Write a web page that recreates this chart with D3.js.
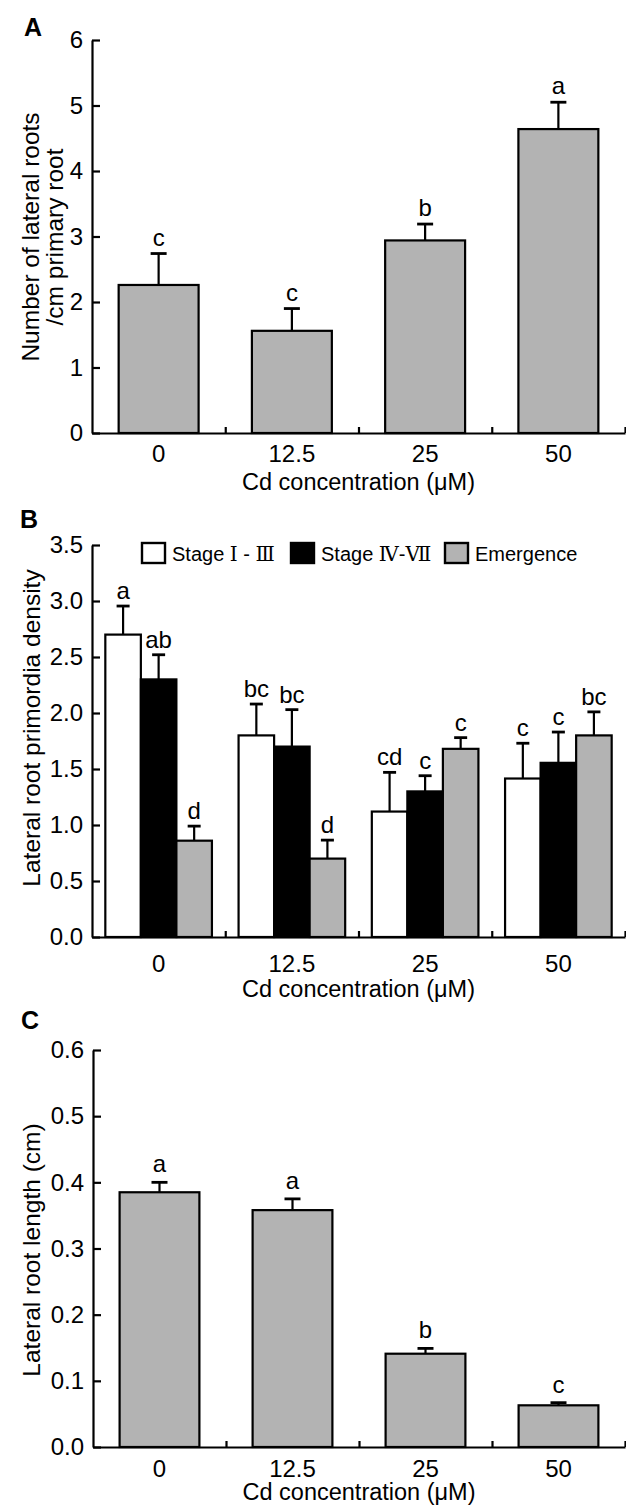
<!DOCTYPE html>
<html>
<head>
<meta charset="utf-8">
<script src="https://cdn.jsdelivr.net/npm/d3@7"></script>
<style>
body{margin:0;background:#fff;}
svg{display:block;font-family:"Liberation Sans",Arial,sans-serif;}
.axis path,.axis line{stroke:#000;stroke-width:2.2;}
.axis text{font-size:24px;fill:#000;font-family:"Liberation Sans",Arial,sans-serif;}
.sig{font-size:24px;}
.title{font-size:23.5px;}
.ytitle{font-size:24.5px;}
.panel{font-size:25px;font-weight:bold;}
</style>
</head>
<body>
<svg width="626" height="1508"></svg>
<script>
// categories shared by all three panels
var concentrations = ["0","12.5","25","50"]

// A - number of lateral roots / cm primary root
var rootNumber = [2.26,1.56,2.94,4.64]
var rootNumberErr = [0.48,0.34,0.25,0.41]
var rootNumberSig = ["c","c","b","a"]

// B - lateral root primordia density
var stageNames = ["Stage \u2160 - \u2162","Stage \u2163-\u2166","Emergence"]
var stageEarly = [2.70,1.80,1.12,1.415]
var stageEarlyErr = [0.255,0.28,0.35,0.315]
var stageEarlySig = ["a","bc","cd","c"]
var stageLate = [2.30,1.70,1.30,1.555]
var stageLateErr = [0.22,0.33,0.14,0.275]
var stageLateSig = ["ab","bc","c","c"]
var emergence = [0.86,0.70,1.68,1.80]
var emergenceErr = [0.13,0.165,0.10,0.21]
var emergenceSig = ["d","d","c","bc"]

// C - lateral root length (cm)
var rootLength = [0.385,0.358,0.141,0.063]
var rootLengthErr = [0.015,0.017,0.008,0.004]
var rootLengthSig = ["a","a","b","c"]

var svg = d3.select("svg")
var gray = "#b3b3b3"
var barStroke = 2.2

//draws y axis, x axis with ticks between the categories, and the labels
var drawAxes = function(g,xBand,yScale,yTicks,fmt,dims)
{
    var x0 = xBand.range()[0], x1 = xBand.range()[1]
    var bottom = yScale(0)

    var yAxis = d3.axisLeft(yScale)
        .tickValues(yTicks)
        .tickFormat(d3.format(fmt))
        .tickSizeInner(-8)
        .tickSizeOuter(0)
        .tickPadding(9)
    g.append("g")
        .classed("axis",true)
        .attr("transform","translate("+x0+",0)")
        .call(yAxis)

    // boundary ticks between groups
    var idx = d3.scaleLinear().domain([0,xBand.domain().length]).range([x0,x1])
    g.append("g")
        .classed("axis",true)
        .attr("transform","translate(0,"+bottom+")")
        .call(d3.axisBottom(idx)
            .tickValues(d3.range(1,xBand.domain().length+1))
            .tickSizeInner(-6)
            .tickSizeOuter(0)
            .tickFormat(""))

    // category labels
    g.append("g")
        .classed("axis",true)
        .attr("transform","translate(0,"+bottom+")")
        .call(d3.axisBottom(xBand).tickSize(0).tickPadding(dims.labelPad))
        .call(function(a){a.select(".domain").remove()})

    g.append("text")
        .classed("title",true)
        .attr("text-anchor","middle")
        .attr("x",(x0+x1)/2)
        .attr("y",dims.titleY)
        .text("Cd concentration (\u03bcM)")

    var yt = g.append("text")
        .classed("ytitle",true)
        .attr("text-anchor","middle")
        .attr("transform","translate(0,"+dims.yTitleY+") rotate(-90)")
    dims.yTitle.forEach(function(line,i)
    {
        yt.append("tspan")
            .attr("x",0)
            .attr("y",dims.yTitleX[i])
            .text(line)
    })

    g.append("text")
        .classed("panel",true)
        .attr("x",dims.panelX)
        .attr("y",dims.panelY)
        .text(dims.panel)
}

//bars with an upper error bar and the significance letter
var drawBars = function(g,data,xPos,width,yScale,fill,capW,gap)
{
    var bars = g.append("g")
        .selectAll("g")
        .data(data)
        .enter()
        .append("g")

    bars.append("rect")
        .attr("x",function(d){return xPos(d)})
        .attr("y",function(d){return yScale(d.value)})
        .attr("width",width)
        .attr("height",function(d){return yScale(0)-yScale(d.value)})
        .attr("fill",fill)
        .attr("stroke","black")
        .attr("stroke-width",barStroke)

    bars.append("line")
        .attr("x1",function(d){return xPos(d)+width/2})
        .attr("x2",function(d){return xPos(d)+width/2})
        .attr("y1",function(d){return yScale(d.value)})
        .attr("y2",function(d){return yScale(d.value+d.err)})
        .attr("stroke","black")
        .attr("stroke-width",barStroke)

    bars.append("line")
        .attr("x1",function(d){return xPos(d)+width/2-capW/2})
        .attr("x2",function(d){return xPos(d)+width/2+capW/2})
        .attr("y1",function(d){return yScale(d.value+d.err)})
        .attr("y2",function(d){return yScale(d.value+d.err)})
        .attr("stroke","black")
        .attr("stroke-width",barStroke+0.6)

    bars.append("text")
        .classed("sig",true)
        .attr("text-anchor","middle")
        .attr("x",function(d){return xPos(d)+width/2})
        .attr("y",function(d){return yScale(d.value+d.err)-gap})
        .text(function(d){return d.sig})
}

var rows = function(values,errs,sigs)
{
    return concentrations.map(function(c,i)
    {
        return {cat:c,value:values[i],err:errs[i],sig:sigs[i]}
    })
}

// ---------- A ----------
var gA = svg.append("g")
var xA = d3.scaleBand().domain(concentrations).range([92,625]).paddingInner(0.4).paddingOuter(0.2)
var yA = d3.scaleLinear().domain([0,6]).range([433,40])
drawBars(gA,rows(rootNumber,rootNumberErr,rootNumberSig),
    function(d){return xA(d.cat)},xA.bandwidth(),yA,gray,16,8)
drawAxes(gA,xA,yA,d3.range(0,7),"d",
    {labelPad:12,titleY:490,yTitleY:237,yTitleX:[39,63],
     yTitle:["Number of lateral roots","/cm primary root"],panel:"A",panelX:24,panelY:36})

// ---------- B ----------
var gB = svg.append("g")
var xB = d3.scaleBand().domain(concentrations).range([92,625]).paddingInner(0.2).paddingOuter(0.1)
var xB1 = d3.scaleBand().domain([0,1,2]).range([0,xB.bandwidth()])
var yB = d3.scaleLinear().domain([0,3.5]).range([937,545])
var stageSeries = [
    {fill:"#ffffff",rows:rows(stageEarly,stageEarlyErr,stageEarlySig)},
    {fill:"#000000",rows:rows(stageLate,stageLateErr,stageLateSig)},
    {fill:gray,rows:rows(emergence,emergenceErr,emergenceSig)}
]
stageSeries.forEach(function(s,k)
{
    drawBars(gB,s.rows,function(d){return xB(d.cat)+xB1(k)},xB1.bandwidth(),yB,s.fill,13,7)
})
drawAxes(gB,xB,yB,d3.range(0,3.51,0.5),".1f",
    {labelPad:18,titleY:997,yTitleY:728,yTitleX:[40],
     yTitle:["Lateral root primordia density"],panel:"B",panelX:20,panelY:528})

// legend
var legendX = [142,291,445]
var legend = gB.append("g")
    .selectAll("g")
    .data(stageSeries)
    .enter()
    .append("g")
    .attr("transform",function(d,i){return "translate("+legendX[i]+",543)"})
legend.append("rect")
    .attr("width",23)
    .attr("height",20)
    .attr("fill",function(d){return d.fill})
    .attr("stroke","black")
    .attr("stroke-width",2.4)
legend.append("text")
    .attr("x",30)
    .attr("y",17.5)
    .attr("font-size","20px")
    .each(function(d,i)
    {
        var t = d3.select(this)
        // roman numerals are set in a serif face
        stageNames[i].split(/([\u2160-\u217f]+)/).forEach(function(part)
        {
            if(part=="") return
            var sp = t.append("tspan").text(part)
            if(/[\u2160-\u217f]/.test(part))
                sp.attr("font-family","'DejaVu Serif','Noto Sans CJK SC',serif")
        })
    })

// ---------- C ----------
var gC = svg.append("g")
var xC = d3.scaleBand().domain(concentrations).range([93,625]).paddingInner(0.4).paddingOuter(0.2)
var yC = d3.scaleLinear().domain([0,0.6]).range([1447,1050])
drawBars(gC,rows(rootLength,rootLengthErr,rootLengthSig),
    function(d){return xC(d.cat)},xC.bandwidth(),yC,gray,16,10)
drawAxes(gC,xC,yC,d3.range(0,0.61,0.1),".1f",
    {labelPad:13,titleY:1500,yTitleY:1250,yTitleX:[40],
     yTitle:["Lateral root length (cm)"],panel:"C",panelX:21,panelY:1029})
</script>
</body>
</html>
